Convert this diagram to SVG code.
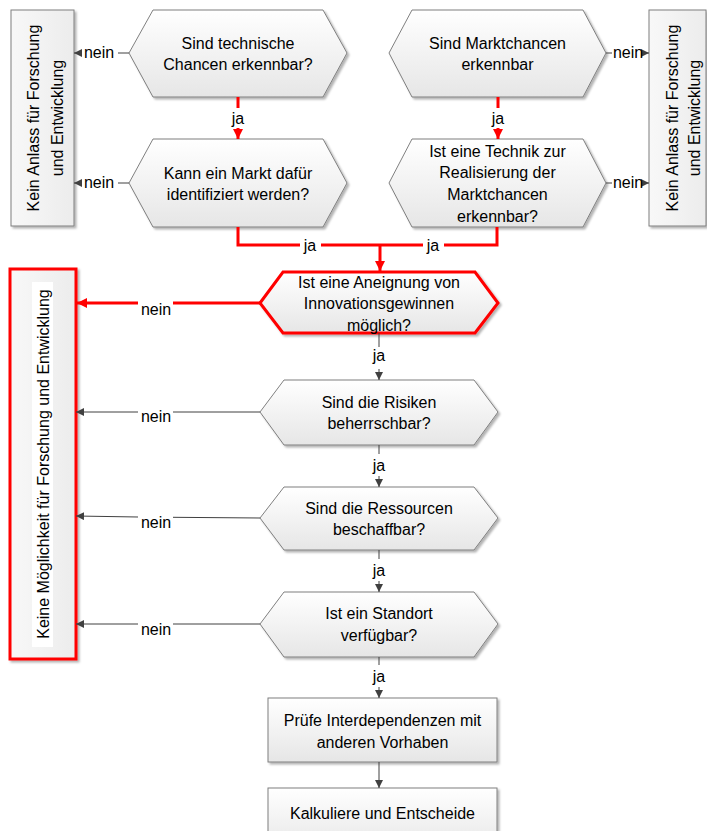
<svg xmlns="http://www.w3.org/2000/svg" width="707" height="831" viewBox="0 0 707 831">
  <defs>
    <linearGradient id="gFill" x1="0" y1="0" x2="0" y2="1">
      <stop offset="0" stop-color="#ffffff"/>
      <stop offset="1" stop-color="#e6e6e6"/>
    </linearGradient>
    <linearGradient id="gSide" x1="0" y1="0" x2="1" y2="0">
      <stop offset="0" stop-color="#f8f8f8"/>
      <stop offset="1" stop-color="#ececec"/>
    </linearGradient>
    <filter id="shadow" x="-10%" y="-10%" width="130%" height="130%">
      <feDropShadow dx="2" dy="2" stdDeviation="1" flood-color="#000" flood-opacity="0.3"/>
    </filter>
    <marker id="aGray" viewBox="0 0 10 10" refX="10" refY="5" markerWidth="8" markerHeight="8" markerUnits="userSpaceOnUse" orient="auto">
      <path d="M0,0 L10,5 L0,10 z" fill="#404040"/>
    </marker>
    <marker id="aRed" viewBox="0 0 10 10" refX="10" refY="5" markerWidth="10" markerHeight="10" markerUnits="userSpaceOnUse" orient="auto">
      <path d="M0,0 L10,5 L0,10 z" fill="#ff0000"/>
    </marker>
  </defs>
  <style>
    text { font-family: "Liberation Sans", Arial, sans-serif; font-size: 16px; fill: #000; text-anchor: middle; }
    .shape { fill: url(#gFill); stroke: #7f7f7f; stroke-width: 1; filter: url(#shadow); }
    .side { fill: url(#gSide); stroke: #7f7f7f; stroke-width: 1; filter: url(#shadow); }
    .hot { fill: url(#gFill); stroke: #ff0000; stroke-width: 3; filter: url(#shadow); }
    .hotSide { fill: url(#gSide); stroke: #ff0000; stroke-width: 3; filter: url(#shadow); }
    .c { fill: none; stroke: #404040; stroke-width: 1; }
    .cr { fill: none; stroke: #ff0000; stroke-width: 3; }
    .ag { marker-end: url(#aGray); }
    .ar { marker-end: url(#aRed); }
  </style>

  <!-- side outcome boxes -->
  <g id="noReasonLeft">
    <rect class="side" x="11" y="10" width="63" height="216"/>
    <text transform="translate(39,118) rotate(-90)">Kein Anlass für Forschung</text>
    <text transform="translate(63,118) rotate(-90)">und Entwicklung</text>
  </g>
  <g id="noReasonRight">
    <rect class="side" x="649" y="10" width="57" height="216"/>
    <text transform="translate(678,118) rotate(-90)">Kein Anlass für Forschung</text>
    <text transform="translate(700,118) rotate(-90)">und Entwicklung</text>
  </g>
  <g id="noPossibility">
    <rect class="hotSide" x="10" y="269" width="66" height="390"/>
    <rect x="32" y="282" width="21" height="365" fill="#ffffff"/>
    <text transform="translate(49,464) rotate(-90)">Keine Möglichkeit für Forschung und Entwicklung</text>
  </g>

  <!-- decision nodes -->
  <g id="techChances">
    <polygon class="shape" points="129,53 153,10 323,10 347,53 323,97 153,97"/>
    <text x="238" y="49">Sind technische</text>
    <text x="238" y="70">Chancen erkennbar?</text>
  </g>
  <g id="marketFound">
    <polygon class="shape" points="129,183 153,139 323,139 347,183 323,227 153,227"/>
    <text x="238" y="179">Kann ein Markt dafür</text>
    <text x="238" y="200">identifiziert werden?</text>
  </g>
  <g id="marketChances">
    <polygon class="shape" points="389,53 412,10 583,10 606,53 583,97 412,97"/>
    <text x="497.5" y="49">Sind Marktchancen</text>
    <text x="497.5" y="70">erkennbar</text>
  </g>
  <g id="techFound">
    <polygon class="shape" points="389,183 412,139 583,139 606,183 583,227 412,227"/>
    <text x="497.5" y="157">Ist eine Technik zur</text>
    <text x="497.5" y="178">Realisierung der</text>
    <text x="497.5" y="200">Marktchancen</text>
    <text x="497.5" y="222">erkennbar?</text>
  </g>
  <g id="appropriation">
    <polygon class="hot" points="260,303 283,272 475,272 498,303 475,333 283,333"/>
    <text x="379" y="288">Ist eine Aneignung von</text>
    <text x="379" y="309">Innovationsgewinnen</text>
    <text x="379" y="331">möglich?</text>
  </g>
  <g id="risks">
    <polygon class="shape" points="260,412 284,380 474,380 498,412 474,445 284,445"/>
    <text x="379" y="408">Sind die Risiken</text>
    <text x="379" y="429">beherrschbar?</text>
  </g>
  <g id="resources">
    <polygon class="shape" points="260,518 284,487 474,487 498,518 474,550 284,550"/>
    <text x="379" y="514">Sind die Ressourcen</text>
    <text x="379" y="535">beschaffbar?</text>
  </g>
  <g id="location">
    <polygon class="shape" points="260,624 284,592 474,592 498,624 474,657 284,657"/>
    <text x="379" y="619">Ist ein Standort</text>
    <text x="379" y="641">verfügbar?</text>
  </g>

  <!-- process steps -->
  <g id="interdependencies">
    <rect class="shape" x="268" y="698" width="229" height="64"/>
    <text x="382.5" y="726">Prüfe Interdependenzen mit</text>
    <text x="382.5" y="748">anderen Vorhaben</text>
  </g>
  <g id="decide">
    <rect class="shape" x="268" y="788" width="229" height="64"/>
    <text x="382.5" y="819">Kalkuliere und Entscheide</text>
  </g>

  <!-- connectors -->
  <g id="connectors">
    <!-- top rows: "nein" exits to the side boxes -->
    <path class="c" d="M129,53 H118"/>
    <path class="c ag" d="M82,53 H74"/>
    <text x="99" y="58">nein</text>
    <path class="c" d="M129,183 H118"/>
    <path class="c ag" d="M82,183 H74"/>
    <text x="99" y="188">nein</text>
    <path class="c" d="M606,53 H612"/>
    <path class="c ag" d="M644,53 H649"/>
    <text x="628" y="58">nein</text>
    <path class="c" d="M606,183 H612"/>
    <path class="c ag" d="M644,183 H649"/>
    <text x="628" y="188">nein</text>

    <!-- "ja" paths down the two entry columns -->
    <path class="cr" d="M238,97 V108"/>
    <path class="cr ar" d="M238,128 V139"/>
    <text x="238" y="124">ja</text>
    <path class="cr" d="M498,97 V108"/>
    <path class="cr ar" d="M498,128 V139"/>
    <text x="498" y="124">ja</text>

    <!-- merge into the appropriation check -->
    <path class="cr" d="M238,227 V245 H300"/>
    <path class="cr" d="M321,245 H423"/>
    <path class="cr" d="M444,245 H497 V227"/>
    <path class="cr ar" d="M380,245 V271"/>
    <text x="310" y="251">ja</text>
    <text x="433" y="251">ja</text>

    <!-- "nein" exits to the outcome box -->
    <path class="cr" d="M260,303 H173"/>
    <path class="cr ar" d="M138,303 H77"/>
    <text x="156" y="315">nein</text>
    <path class="c" d="M260,412 H173"/>
    <path class="c ag" d="M138,412 H76"/>
    <text x="156" y="422">nein</text>
    <path class="c" d="M260,518 L173,517.3"/>
    <path class="c ag" d="M138,517 L76,516"/>
    <text x="156" y="528">nein</text>
    <path class="c" d="M260,624 H173"/>
    <path class="c ag" d="M138,624 H76"/>
    <text x="156" y="635">nein</text>

    <!-- "ja" path down the main column -->
    <path class="c" d="M379,333 V347"/>
    <path class="c ag" d="M379,369 V380"/>
    <text x="379" y="361">ja</text>
    <path class="c" d="M379,445 V454"/>
    <path class="c ag" d="M379,476 V487"/>
    <text x="379" y="471">ja</text>
    <path class="c" d="M379,550 V559"/>
    <path class="c ag" d="M379,581 V592"/>
    <text x="379" y="576">ja</text>
    <path class="c" d="M379,657 V665"/>
    <path class="c ag" d="M379,687 V698"/>
    <text x="379" y="682">ja</text>
    <path class="c ag" d="M379,762 V788"/>
  </g>
</svg>
